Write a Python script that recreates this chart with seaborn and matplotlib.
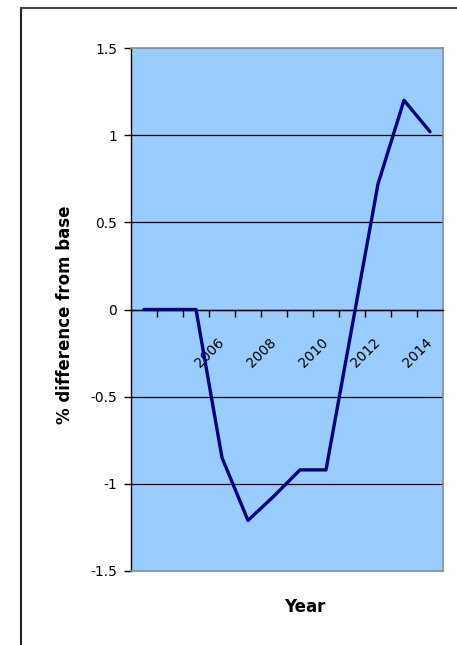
import matplotlib
matplotlib.use("Agg")
import matplotlib.pyplot as plt
import seaborn as sns
import pandas as pd
from matplotlib.lines import Line2D

# Yearly % difference from base scenario
years = [2003, 2004, 2005, 2006, 2007, 2008, 2009, 2010, 2011, 2012, 2013, 2014]
pct_diff = [0.0, 0.0, 0.0, -0.85, -1.21, -1.07, -0.92, -0.92, -0.1, 0.72, 1.2, 1.02]

year_labels = ["2006", "2008", "2010", "2012", "2014"]
y_ticks = [-1.5, -1, -0.5, 0, 0.5, 1, 1.5]
y_tick_labels = ["-1.5", "-1", "-0.5", "0", "0.5", "1", "1.5"]

sns.set_theme(style="white")
plt.rcParams["font.family"] = ["DejaVu Sans"]

W, H = 457, 645
fig = plt.figure(figsize=(W / 100, H / 100), dpi=100)
fig.patch.set_facecolor("white")

left, right, top, bottom = 131, 443, 48, 571
ax = fig.add_axes([left / W, 1 - bottom / H, (right - left) / W, (bottom - top) / H])
ax.set_facecolor("#99CCFF")

df = pd.DataFrame({"Year": years, "Diff": pct_diff})
sns.lineplot(data=df, x="Year", y="Diff", color="#000080", lw=2.4, ax=ax, zorder=5)

ax.set_xlim(years[0] - 0.5, years[-1] + 0.5)
ax.set_ylim(y_ticks[0], y_ticks[-1])

# y axis
ax.set_yticks(y_ticks, y_tick_labels)
ax.tick_params(axis="y", which="major", left=True, length=5, width=1,
               color="black", direction="out", pad=5, labelsize=10, labelcolor="black")
ax.grid(axis="y", color="black", lw=0.9)
ax.grid(axis="x", visible=False)
gl = ax.get_ygridlines()
gl[0].set_visible(False)
gl[-1].set_visible(False)

# category x axis crossing at zero
ax.spines["bottom"].set_position(("data", 0))
ax.spines["bottom"].set_color("black")
ax.spines["bottom"].set_linewidth(1.0)
ax.spines["left"].set_color("black")
ax.spines["left"].set_linewidth(1.0)
for s in ("top", "right"):
    ax.spines[s].set_color("#8a8a8a")
    ax.spines[s].set_linewidth(1.2)
ax.axhline(y_ticks[0], color="#8a8a8a", lw=1.2, clip_on=False, zorder=6)

ax.set_xticks([int(s) for s in year_labels], year_labels)
ax.set_xticks([y + 0.5 for y in years[:-1]], minor=True)
ax.tick_params(axis="x", which="major", bottom=True, length=0, pad=22,
               labelsize=10, labelcolor="black")
ax.tick_params(axis="x", which="minor", bottom=True, length=5, width=1,
               color="black", direction="out")
for lbl in ax.get_xticklabels():
    lbl.set_rotation(45)
    lbl.set_ha("right")
    lbl.set_va("center")
    lbl.set_rotation_mode("anchor")

ax.set_xlabel("Year", fontsize=12, fontweight="bold", color="black")
ax.xaxis.set_label_coords((305 - left) / (right - left), (bottom - 598) / (bottom - top))
ax.set_ylabel("% difference from base", fontsize=12, fontweight="bold", color="black")
ax.yaxis.set_label_coords((74 - left) / (right - left), (bottom - 315) / (bottom - top))

# chart area outline
fig.add_artist(Line2D([21 / W, 21 / W], [0, 1 - 8 / H], transform=fig.transFigure,
                      color="#222222", lw=1.5))
fig.add_artist(Line2D([21 / W, 1], [1 - 8 / H, 1 - 8 / H], transform=fig.transFigure,
                      color="#444444", lw=1.5))

fig.savefig("out.png", dpi=100)
